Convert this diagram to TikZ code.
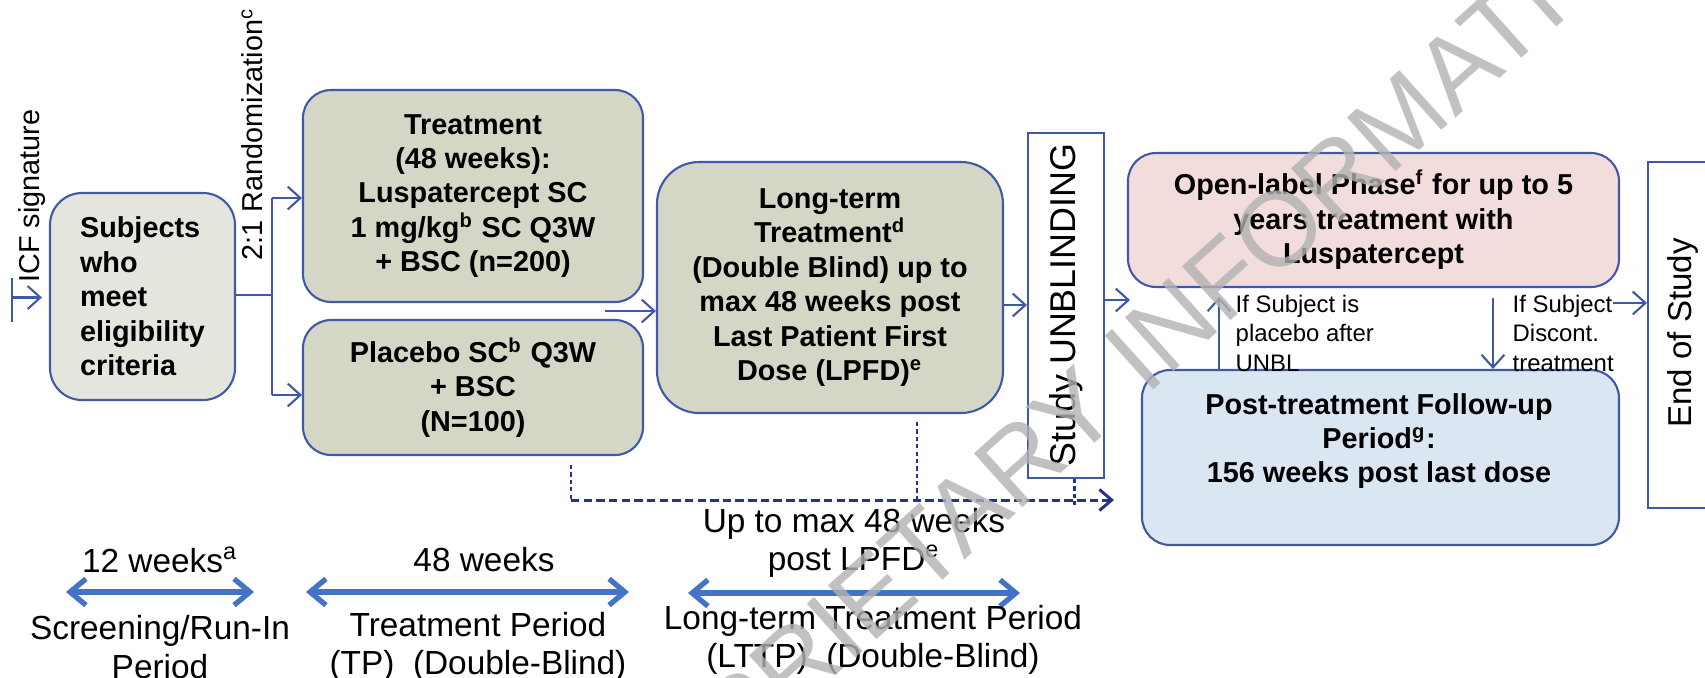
\documentclass[tikz,border=0pt]{standalone}
\usepackage{fontspec}
\setmainfont{Liberation Sans}
\usetikzlibrary{arrows.meta,positioning}
\definecolor{boxline}{RGB}{65,88,168}
\definecolor{dashnavy}{RGB}{38,52,135}
\definecolor{spanblue}{RGB}{68,114,196}
\definecolor{subjfill}{RGB}{228,230,222}
\definecolor{armfill}{RGB}{212,215,197}
\definecolor{olfill}{RGB}{242,221,220}
\definecolor{fufill}{RGB}{218,230,241}

\begin{document}
\begin{tikzpicture}[
phase/.style={rectangle, draw=boxline, line width=0.6pt, rounded corners=0.28cm, align=center, inner sep=0pt, font=\fontsize{8.2}{9.8}\selectfont\bfseries},
gate/.style={rectangle, draw=boxline, line width=0.6pt, fill=white, inner sep=0pt},
gatetxt/.style={rotate=90, inner sep=0pt, font=\fontsize{10.2}{12}\selectfont},
flow/.style={-{Straight Barb[length=3.6pt,width=6.5pt]}, draw=boxline, line width=0.6pt},
link/.style={draw=boxline, line width=0.6pt},
note/.style={align=left, inner sep=0pt, font=\fontsize{6.8}{8.4}\selectfont},
sidelab/.style={rotate=90, inner sep=0pt, font=\fontsize{8.2}{9.8}\selectfont},
spanarrow/.style={{Straight Barb[length=4.5pt,width=7.5pt]}-{Straight Barb[length=4.5pt,width=7.5pt]}, draw=spanblue, line width=1.5pt},
period/.style={align=center, inner sep=0pt, font=\fontsize{9.5}{11}\selectfont},
dotln/.style={draw=dashnavy, line width=0.85pt, dash pattern=on 1.2pt off 0.9pt},
dashln/.style={draw=dashnavy, line width=0.85pt, dash pattern=on 2.4pt off 1.2pt, -{Straight Barb[length=3.5pt,width=6pt]}}
]
\useasboundingbox (0,0) rectangle (17.05,-6.77);

% boxes
\node[phase, fill=subjfill, rounded corners=0.32cm, minimum width=1.85cm, minimum height=2.07cm, align=left] (subj) at (1.425,-2.965) {Subjects\\who\\meet\\eligibility\\criteria};
\node[phase, fill=armfill, minimum width=3.40cm, minimum height=2.12cm] (treat) at (4.73,-1.96) {Treatment\\(48 weeks):\\Luspatercept SC\\1 mg/kg\textsuperscript{b} SC Q3W\\+ BSC (n=200)};
\node[phase, fill=armfill, minimum width=3.40cm, minimum height=1.35cm] (plac) at (4.73,-3.875) {Placebo SC\textsuperscript{b} Q3W\\+ BSC\\(N=100)};
\node[phase, fill=armfill, rounded corners=0.42cm, minimum width=3.46cm, minimum height=2.51cm] (ltt) at (8.30,-2.875) {Long-term\\Treatment\textsuperscript{d}\\(Double Blind) up to\\max 48 weeks post\\Last Patient First\\Dose (LPFD)\textsuperscript{e}};
\node[gate, minimum width=0.76cm, minimum height=3.45cm] (unbl) at (10.66,-3.055) {};
\node[gatetxt] (unbltxt) at (10.66,-3.05) {Study UNBLINDING};
\node[phase, fill=olfill, minimum width=4.91cm, minimum height=1.34cm] (open) at (13.735,-2.20) {Open-label Phase\textsuperscript{f} for up to 5\\years treatment with\\Luspatercept};
\node[phase, fill=fufill, minimum width=4.77cm, minimum height=1.75cm] (post) at (13.805,-4.575) {};
\node[phase, draw=none] (posttxt) at (13.79,-4.41) {Post-treatment Follow-up\\Period\textsuperscript{g}:\\156 weeks post last dose};
\node[gate, minimum width=0.9cm, minimum height=3.46cm, anchor=west] (eos) at (16.47,-3.35) {};
\node[gatetxt, font=\fontsize{9.4}{11}\selectfont] (eostxt) at (16.83,-3.33) {End of Study};

% entry and randomisation
\node[sidelab] (icf) at (0.32,-1.96) {ICF signature};
\coordinate (icftop) at (0.12,-2.78);
\coordinate (icfbot) at (0.12,-3.22);
\coordinate (icfin) at (0.12,-2.975);
\draw[link] (icftop) -- (icfbot);
\draw[flow, shorten >=2pt] (icfin) -- (icfin -| subj.west);
\node[sidelab] (rand) at (2.52,-1.34) {2:1 Randomization\textsuperscript{c}};
\coordinate (split) at (2.72,-2.95);
\coordinate (armtop) at (2.72,-1.98);
\coordinate (armbot) at (2.72,-3.95);
\draw[link] (subj.east |- split) -- (split);
\draw[link] (armtop) -- (armbot);
\draw[flow] (armtop) -- (armtop -| treat.west);
\draw[flow] (armbot) -- (armbot -| plac.west);

% main flow
\coordinate (armout) at (6.05,-3.11);
\draw[flow] (armout) -- (armout -| ltt.west);
\coordinate (ltout) at (10.03,-3.05);
\draw[flow] (ltout) -- (ltout -| unbl.west);
\coordinate (gapin) at (11.30,-3.00);
\draw[flow] (gapin -| unbl.east) -- (gapin);
\coordinate (upx) at (12.19,-2.97);
\draw[flow] (upx |- post.north) -- (upx);
\coordinate (dnx) at (14.93,-2.98);
\draw[flow] (dnx) -- (dnx |- post.north);
\node[note, anchor=west] (ifplac) at (12.35,-3.33) {If Subject is\\placebo after\\UNBL};
\node[note, anchor=west] (ifdisc) at (15.12,-3.33) {If Subject\\Discont.\\treatment};
\coordinate (eosin) at (16.13,-3.03);
\draw[flow] (eosin) -- (eosin -| eos.west);

% dashed timing line
\coordinate (tpdrop) at (5.71,-4.65);
\coordinate (tpcorner) at (5.71,-5.00);
\coordinate (ltdrop) at (9.17,-4.22);
\coordinate (ltfoot) at (9.17,-5.00);
\coordinate (ubdrop) at (10.74,-4.79);
\coordinate (ubfoot) at (10.74,-5.05);
\coordinate (dashend) at (11.14,-5.00);
\draw[dotln] (tpdrop) -- (tpcorner);
\draw[dotln] (ltdrop) -- (ltfoot);
\draw[dotln] (ubdrop) -- (ubfoot);
\draw[dashln] (tpcorner) -- (dashend);

% periods
\node[period] (wk12) at (1.60,-5.60) {12 weeks\textsuperscript{a}};
\coordinate (scrL) at (0.66,-5.92);
\coordinate (scrR) at (2.54,-5.92);
\draw[spanarrow] (scrL) -- (scrR);
\node[period] (scrper) at (1.60,-6.47) {Screening/Run-In\\Period};
\node[period] (wk48) at (4.84,-5.60) {48 weeks};
\coordinate (tpL) at (3.06,-5.92);
\coordinate (tpR) at (6.29,-5.92);
\draw[spanarrow] (tpL) -- (tpR);
\node[period] (tpper) at (4.78,-6.47) {Treatment Period\\(TP)\ \ (Double-Blind)};
\node[period] (ltwk) at (8.54,-5.43) {Up to max 48 weeks\\post LPFD\textsuperscript{e}};
\coordinate (ltL) at (6.88,-5.93);
\coordinate (ltR) at (10.20,-5.93);
\draw[spanarrow] (ltL) -- (ltR);
\node[period] (ltper) at (8.73,-6.40) {Long-term Treatment Period\\(LTTP)\ \ (Double-Blind)};

% watermark
\node[rotate=42, text=black!30, text opacity=0.8, inner sep=0pt, font=\fontsize{30}{30}\selectfont] (wmark) at (11.05,-3.85) {PROPRIETARY INFORMATION};
\end{tikzpicture}
\end{document}
